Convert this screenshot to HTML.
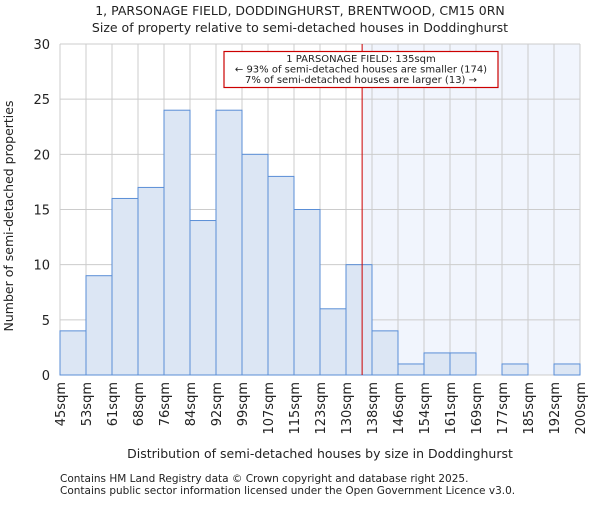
<!DOCTYPE html>
<html><head><meta charset="utf-8"><style>
body{margin:0;background:#fff;}
svg text{font-family:"DejaVu Sans","Liberation Sans",sans-serif;fill:#222;}
</style></head><body>
<svg width="600" height="500" xmlns="http://www.w3.org/2000/svg">
<g id="g"></g>
<text x="300" y="15" text-anchor="middle" font-size="12.5">1, PARSONAGE FIELD, DODDINGHURST, BRENTWOOD, CM15 0RN</text>
<text x="300" y="32" text-anchor="middle" font-size="12.5">Size of property relative to semi-detached houses in Doddinghurst</text>
<text x="320" y="458" text-anchor="middle" font-size="12.5">Distribution of semi-detached houses by size in Doddinghurst</text>
<text transform="translate(13,216) rotate(-90)" text-anchor="middle" font-size="12.5">Number of semi-detached properties</text>
<text x="60" y="482" font-size="10.5">Contains HM Land Registry data © Crown copyright and database right 2025.</text>
<text x="60" y="494" font-size="10.5">Contains public sector information licensed under the Open Government Licence v3.0.</text>
</svg>
<script>
const categories=["45sqm","53sqm","61sqm","68sqm","76sqm","84sqm","92sqm","99sqm","107sqm","115sqm","123sqm","130sqm","138sqm","146sqm","154sqm","161sqm","169sqm","177sqm","185sqm","192sqm","200sqm"];
const counts=[4,9,16,17,24,14,24,20,18,15,6,10,4,1,2,2,0,1,0,1];
const yTicks=[0,5,10,15,20,25,30];
const markerBin=11.62;
const NS="http://www.w3.org/2000/svg";
const L=60,R=580,T=44,B=375,yMax=30;
const n=counts.length,bw=(R-L)/n;
const xs=i=>L+i*bw, ys=v=>B-(v/yMax)*(B-T);
const g=document.getElementById('g');
function mk(t,a){const e=document.createElementNS(NS,t);for(const k in a)e.setAttribute(k,a[k]);g.appendChild(e);return e;}
const mx=xs(markerBin);
let e=mk('rect',{x:mx,y:T,width:R-mx,height:B-T,fill:'#f1f5fd'});


for(let i=0;i<=n;i++){e=mk('line',{x1:xs(i),x2:xs(i),y1:T,y2:B,stroke:'#cccccc','stroke-width':1});

}
yTicks.forEach(v=>{e=mk('line',{x1:L,x2:R,y1:ys(v),y2:ys(v),stroke:'#cccccc','stroke-width':1});


const t=mk('text',{x:L-10,y:ys(v)+5,'text-anchor':'end','font-size':13});t.textContent=v;

});
counts.forEach((v,i)=>{if(v<=0)return;e=mk('rect',{x:xs(i),y:ys(v),width:bw,height:B-ys(v),fill:'#dce6f4',stroke:'#5a8ed6','stroke-width':1});

});
categories.forEach((c,i)=>{const t=mk('text',{transform:`translate(${xs(i)+5},382) rotate(-90)`,'text-anchor':'end','font-size':13});t.textContent=c;

});
e=mk('line',{x1:mx,x2:mx,y1:T,y2:B,stroke:'#cc0000','stroke-width':1});


e=mk('rect',{x:224,y:51.5,width:274,height:36,fill:'#fff',stroke:'#cc0000','stroke-width':1.2});


["1 PARSONAGE FIELD: 135sqm","← 93% of semi-detached houses are smaller (174)","7% of semi-detached houses are larger (13) →"].forEach((s,k)=>{const t=mk('text',{x:361,y:62+k*10.5,'text-anchor':'middle','font-size':10});t.textContent=s;

});
</script>
</body></html>
